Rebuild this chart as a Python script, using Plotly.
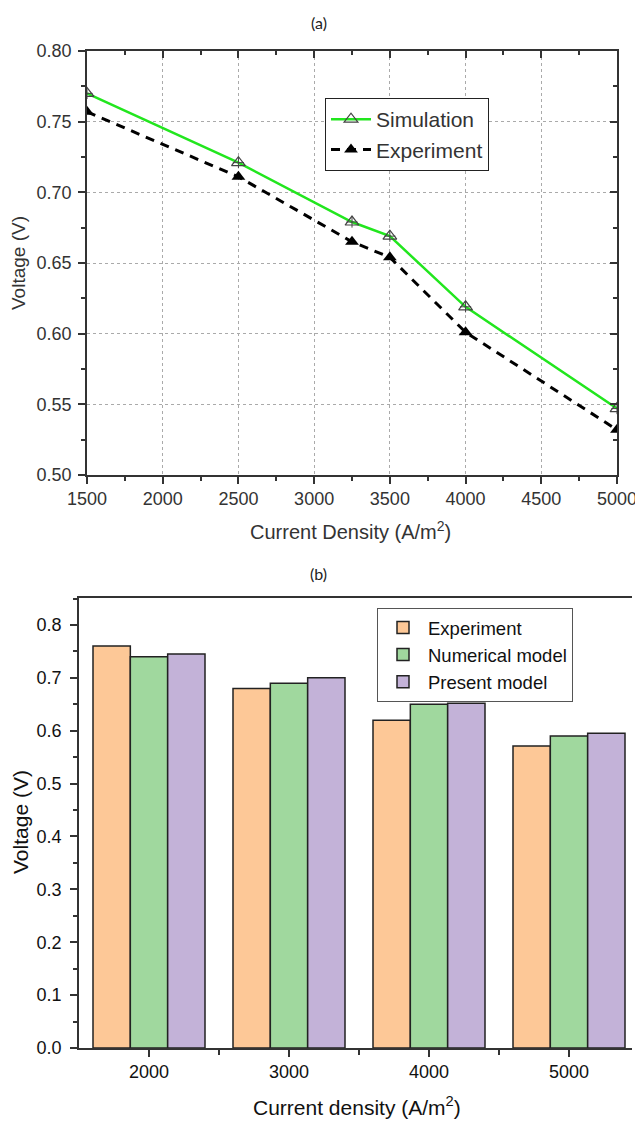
import plotly.graph_objects as go

W, H = 635, 1122

# ---- data (a)
current_a = [1500, 2500, 3250, 3500, 4000, 5000]
simulation = [0.770, 0.721, 0.679, 0.669, 0.619, 0.547]
experiment_a = [0.757, 0.711, 0.665, 0.654, 0.601, 0.532]

# ---- data (b)
current_b = [2000, 3000, 4000, 5000]
experiment_b = [0.76, 0.68, 0.62, 0.571]
numerical_model = [0.74, 0.69, 0.65, 0.59]
present_model = [0.745, 0.70, 0.652, 0.595]

def px_x(p):
    return p / W

def px_y(p):
    return 1 - p / H

TXT = "#333333"
AX = "#333333"
FONT = "Liberation Sans, Arial, sans-serif"

fig = go.Figure()

# (a) traces
fig.add_trace(go.Scatter(
    x=current_a, y=simulation, name="Simulation", mode="lines+markers",
    line=dict(color="#22e61e", width=2.5),
    marker=dict(symbol="triangle-up-open", size=12, color="#444444", line=dict(width=1.2, color="#444444")),
    xaxis="x", yaxis="y", legend="legend"))
fig.add_trace(go.Scatter(
    x=current_a, y=simulation, mode="markers", showlegend=False, hoverinfo="skip",
    marker=dict(symbol="cross-thin-open", size=8, color="#444444", line=dict(width=1, color="#444444")),
    xaxis="x", yaxis="y"))
fig.add_trace(go.Scatter(
    x=current_a, y=experiment_a, name="Experiment", mode="lines+markers",
    line=dict(color="black", width=3, dash="9px,7px"),
    marker=dict(symbol="triangle-up", size=12, color="black"),
    xaxis="x", yaxis="y", legend="legend"))

# (b) traces
colors_b = ["#fdc897", "#a0d89e", "#c3b2d8"]
for name, vals, c in [("Experiment", experiment_b, colors_b[0]),
                      ("Numerical model", numerical_model, colors_b[1]),
                      ("Present model", present_model, colors_b[2])]:
    fig.add_trace(go.Bar(
        x=current_b, y=vals, name=name, marker=dict(color=c, line=dict(color="#222222", width=1.5)),
        xaxis="x2", yaxis="y2", legend="legend2"))

tickfont = dict(family=FONT, size=18, color=TXT)
tickfont_b = dict(family=FONT, size=18, color="#111111")

fig.update_layout(
    template="none",
    width=W, height=H, margin=dict(l=0, r=0, t=0, b=0, pad=0),
    paper_bgcolor="white", plot_bgcolor="white",
    barmode="group", bargap=0.2, bargroupgap=0,
    font=dict(family=FONT, color=TXT),
    xaxis=dict(domain=[px_x(87), px_x(617)], anchor="y", range=[1500, 5000], automargin=False,
               tickmode="linear", tick0=1500, dtick=500, ticks="outside", ticklen=7, tickwidth=1.5,
               tickcolor=AX, showline=True, linecolor=AX, linewidth=1.5, mirror=True,
               showgrid=True, gridcolor="#aaaaaa", griddash="dot", gridwidth=1,
               minor=dict(dtick=250, ticks="outside", ticklen=4, tickcolor=AX, showgrid=False),
               tickfont=tickfont, zeroline=False, ticklabeloverflow="allow"),
    yaxis=dict(domain=[px_y(475), px_y(51)], anchor="x", range=[0.5, 0.8], automargin=False,
               tickmode="linear", tick0=0.5, dtick=0.05, tickformat=".2f", ticks="outside", ticklen=7,
               tickwidth=1.5, tickcolor=AX, showline=True, linecolor=AX, linewidth=1.5, mirror=True,
               showgrid=True, gridcolor="#aaaaaa", griddash="dot", gridwidth=1,
               minor=dict(dtick=0.025, ticks="outside", ticklen=4, tickcolor=AX, showgrid=False),
               tickfont=tickfont, zeroline=False, ticklabelstandoff=3, ticklabeloverflow="allow"),
    xaxis3=dict(overlaying="x", side="top", anchor="y", range=[1500, 5000], tickmode="linear",
                tick0=1500, dtick=500, ticks="inside", ticklen=7, tickwidth=1.5, tickcolor=AX,
                showticklabels=False, showgrid=False, zeroline=False, automargin=False,
                minor=dict(dtick=250, ticks="inside", ticklen=4, tickcolor=AX)),
    yaxis3=dict(overlaying="y", side="right", anchor="x", range=[0.5, 0.8], tickmode="linear",
                tick0=0.5, dtick=0.05, ticks="inside", ticklen=7, tickwidth=1.5, tickcolor=AX,
                showticklabels=False, showgrid=False, zeroline=False, automargin=False,
                minor=dict(dtick=0.025, ticks="inside", ticklen=4, tickcolor=AX)),
    xaxis2=dict(domain=[px_x(79), px_x(632)], anchor="y2", range=[1500, 5450], automargin=False,
                tickmode="array", tickvals=current_b, ticks="outside", ticklen=7, tickwidth=1.5,
                tickcolor=AX, showline=True, linecolor=AX, linewidth=1.5, mirror=True,
                showgrid=False, zeroline=False,
                minor=dict(tickmode="array", tickvals=[2500, 3500, 4500], ticks="outside", ticklen=5, tickcolor=AX),
                tickfont=tickfont_b, ticklabeloverflow="allow"),
    yaxis2=dict(domain=[px_y(1048), px_y(598)], anchor="x2", range=[0, 0.851], automargin=False,
                tickmode="linear", tick0=0, dtick=0.1, tickformat=".1f", ticks="outside", ticklen=7,
                tickwidth=1.5, tickcolor=AX, showline=True, linecolor=AX, linewidth=1.5, mirror=False,
                showgrid=False, zeroline=False,
                minor=dict(dtick=0.05, ticks="outside", ticklen=4, tickcolor=AX),
                tickfont=tickfont_b, ticklabelstandoff=5, ticklabeloverflow="allow"),
    legend=dict(x=px_x(325), y=px_y(98), xanchor="left", yanchor="top",
                bordercolor="#222222", borderwidth=1, bgcolor="white", itemwidth=40,
                font=dict(family=FONT, size=21, color=TXT), tracegroupgap=0),
    legend2=dict(x=px_x(377), y=px_y(608), xanchor="left", yanchor="top",
                 bordercolor="#555555", borderwidth=1, bgcolor="white", itemwidth=40,
                 font=dict(family=FONT, size=18.5, color="#111111"), tracegroupgap=0),
)

# invisible trace to activate overlay axes
fig.add_trace(go.Scatter(x=[1500], y=[0.5], xaxis="x3", yaxis="y3", mode="markers",
                         marker=dict(opacity=0), showlegend=False, hoverinfo="skip"))

def note(text, x, y, size, color, family=FONT, angle=0):
    return dict(text=text, x=px_x(x), y=px_y(y), xref="paper", yref="paper", showarrow=False,
                xanchor="center", yanchor="middle", textangle=angle,
                font=dict(family=family, size=size, color=color))

ann = [
    note("(a)", 319, 22, 16, "#222222", family="Lato, Open Sans, sans-serif"),
    note("(b)", 319, 573, 16, "#222222", family="Lato, Open Sans, sans-serif"),
    note("Voltage (V)", 18, 263, 19, TXT, angle=-90),
    note("Current Density (A/m<sup>2</sup>)", 350, 530, 20, TXT),
    note("Voltage (V)", 20, 822, 21, "#111111", angle=-90),
    note("Current density (A/m<sup>2</sup>)", 357, 1106, 21, "#111111"),
]
fig.update_layout(annotations=ann)

fig.write_html("out.html", config={"displayModeBar": False},
               post_script="document.body.style.margin='0px';document.body.style.overflow='hidden';")
